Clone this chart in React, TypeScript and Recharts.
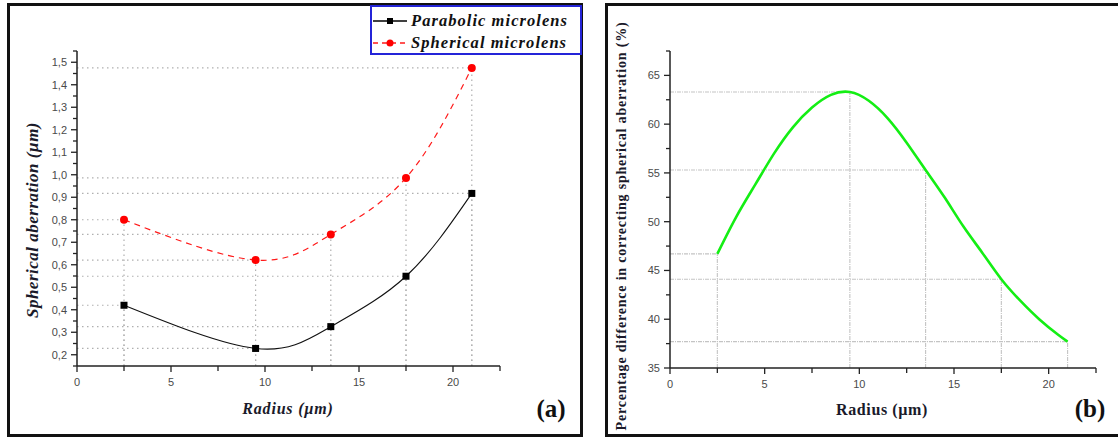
import React from 'react';
import { LineChart, Line, XAxis, YAxis, ReferenceLine } from 'recharts';

// ---- panel (a): spherical aberration vs radius
const aRadius = [2.5, 9.5, 13.5, 17.5, 21];
const aParabolic = [0.42, 0.228, 0.325, 0.549, 0.917];
const aSpherical = [0.8, 0.621, 0.735, 0.986, 1.475];

const aXTicks = [0, 2.5, 5, 7.5, 10, 12.5, 15, 17.5, 20, 22.5];
const aXLabels = [0, 5, 10, 15, 20];
const aYTicks = [
  0.15, 0.2, 0.25, 0.3, 0.35, 0.4, 0.45, 0.5, 0.55, 0.6, 0.65, 0.7, 0.75, 0.8, 0.85,
  0.9, 0.95, 1.0, 1.05, 1.1, 1.15, 1.2, 1.25, 1.3, 1.35, 1.4, 1.45, 1.5, 1.55,
];
const aYLabels = [0.2, 0.3, 0.4, 0.5, 0.6, 0.7, 0.8, 0.9, 1.0, 1.1, 1.2, 1.3, 1.4, 1.5];

// ---- panel (b): percentage difference vs radius
const bRadius = [2.5, 3.5, 4.5, 5.5, 6.5, 7.5, 8.5, 9.5, 10.5, 11.5, 12.5, 13.5, 14.5, 15.5, 16.5, 17.5, 18.5, 19.5, 20.5, 21];
const bPercent = [46.7, 50.5, 53.8, 57.0, 59.7, 61.7, 63.0, 63.3, 62.4, 60.6, 58.1, 55.3, 52.5, 49.5, 46.8, 44.1, 41.9, 40.0, 38.4, 37.7];
const bDropRadius = [2.5, 9.5, 13.5, 17.5, 21];

const bXTicks = [0, 2.5, 5, 7.5, 10, 12.5, 15, 17.5, 20, 22.5];
const bXLabels = [0, 5, 10, 15, 20];
const bYTicks = [35, 37.5, 40, 42.5, 45, 47.5, 50, 52.5, 55, 57.5, 60, 62.5, 65, 67.5];
const bYLabels = [35, 40, 45, 50, 55, 60, 65];

const SERIF = '"Liberation Serif", "Times New Roman", serif';
const SANS = '"Liberation Sans", Arial, sans-serif';
const AXIS = '#222';
const TICK_TEXT = '#4a4a4a';

const aData = aRadius.map((r, i) => ({ r, parabolic: aParabolic[i], spherical: aSpherical[i] }));
const bData = bRadius.map((r, i) => ({ r, pct: bPercent[i] }));
const bDrops = bData.filter((d) => bDropRadius.includes(d.r));

const comma = (v: number) => v.toFixed(1).replace('.', ',');
const plain = (v: number) => String(v);

function XTick(props: any) {
  const { x, y, payload, labels, fmt } = props;
  const major = labels.some((l: number) => Math.abs(l - payload.value) < 1e-6);
  return (
    <g>
      <line x1={x} y1={y} x2={x} y2={y + (major ? 6 : 5)} stroke={AXIS} strokeWidth={1.3} />
      {major && (
        <text x={x} y={y + 20} textAnchor="middle" fontSize={11} fontFamily={SANS} fill={TICK_TEXT}>
          {fmt(payload.value)}
        </text>
      )}
    </g>
  );
}

function YTick(props: any) {
  const { x, y, payload, labels, fmt } = props;
  const major = labels.some((l: number) => Math.abs(l - payload.value) < 1e-6);
  return (
    <g>
      <line x1={x} y1={y} x2={x - (major ? 6 : 4)} y2={y} stroke={AXIS} strokeWidth={1.3} />
      {major && (
        <text x={x - 10} y={y + 4} textAnchor="end" fontSize={11} fontFamily={SANS} fill={TICK_TEXT}>
          {fmt(payload.value)}
        </text>
      )}
    </g>
  );
}

function SquareDot(props: any) {
  const { cx, cy } = props;
  if (cx == null || cy == null) return null;
  return <rect x={cx - 3.5} y={cy - 3.5} width={7} height={7} fill="#000" />;
}

const abs = (style: React.CSSProperties): React.CSSProperties => ({ position: 'absolute', ...style });

function PanelA() {
  const dropStyle = { stroke: '#b0b0b0', strokeWidth: 1.2, strokeDasharray: '1.5 3.5' };
  const drops = aData.flatMap((d) => [d.parabolic, d.spherical].map((v) => ({ r: d.r, v })));
  return (
    <>
      <div style={abs({ left: 7, top: 3, width: 576, height: 434, border: '3px solid #111', boxSizing: 'border-box' })} />
      <div style={abs({ left: 0, top: 0 })}>
        <LineChart width={583} height={438} data={aData} margin={{ top: 51, right: 83, bottom: 42, left: 37 }}>
          <XAxis
            type="number" dataKey="r" domain={[0, 22.5]} ticks={aXTicks} interval={0}
            tickSize={0} tickMargin={0} height={30} allowDataOverflow
            axisLine={{ stroke: AXIS, strokeWidth: 1.5 }} tickLine={false}
            tick={<XTick labels={aXLabels} fmt={plain} />}
          />
          <YAxis
            type="number" domain={[0.15, 1.55]} ticks={aYTicks} interval={0}
            tickSize={0} tickMargin={0} width={40} allowDataOverflow
            axisLine={{ stroke: AXIS, strokeWidth: 1.5 }} tickLine={false}
            tick={<YTick labels={aYLabels} fmt={comma} />}
          />
          {drops.map((p, i) => (
            <ReferenceLine key={'h' + i} segment={[{ x: 0, y: p.v }, { x: p.r, y: p.v }]} {...dropStyle} />
          ))}
          {drops.map((p, i) => (
            <ReferenceLine key={'v' + i} segment={[{ x: p.r, y: 0.15 }, { x: p.r, y: p.v }]} {...dropStyle} />
          ))}
          <Line
            type="natural" dataKey="parabolic" stroke="#111" strokeWidth={1.1}
            dot={<SquareDot />} activeDot={false} isAnimationActive={false}
          />
          <Line
            type="natural" dataKey="spherical" stroke="#ff1a1a" strokeWidth={1.2} strokeDasharray="6 5"
            dot={{ r: 4, fill: '#ff0000', stroke: '#ff0000', strokeWidth: 0, strokeDasharray: '' }}
            activeDot={false} isAnimationActive={false}
          />
        </LineChart>
      </div>
      {/* legend */}
      <div style={abs({ left: 370, top: 5, width: 212, height: 50, border: '2px solid #2424d8', boxSizing: 'border-box', background: '#fff' })}>
        {[
          { label: 'Parabolic microlens', color: '#000', dash: undefined as string | undefined, square: true },
          { label: 'Spherical microlens', color: '#ff1a1a', dash: '5 4', square: false },
        ].map((e, i) => (
          <div key={e.label} style={abs({ left: 0, top: 3 + i * 22, height: 22, width: 210, display: 'flex', alignItems: 'center' })}>
            <svg width={36} height={12} style={{ marginLeft: 1 }}>
              <line x1={0} y1={6} x2={34} y2={6} stroke={e.color} strokeWidth={1.3} strokeDasharray={e.dash} />
              {e.square ? <rect x={14} y={3} width={6} height={6} fill="#000" /> : <circle cx={17} cy={6} r={3.5} fill="#ff0000" />}
            </svg>
            <span style={{ fontFamily: SERIF, fontStyle: 'italic', fontWeight: 700, fontSize: 16.5, letterSpacing: 1.05, marginLeft: 2, color: '#111', whiteSpace: 'nowrap' }}>
              {e.label}
            </span>
          </div>
        ))}
      </div>
      <div style={abs({ left: 33, top: 220, transform: 'translate(-50%, -50%) rotate(-90deg)', whiteSpace: 'nowrap', fontFamily: SERIF, fontStyle: 'italic', fontWeight: 700, fontSize: 17, letterSpacing: 0.5, color: '#1a1a2a' })}>
        Spherical aberration (µm)
      </div>
      <div style={abs({ left: 288, top: 409, transform: 'translate(-50%, -50%)', whiteSpace: 'nowrap', fontFamily: SERIF, fontStyle: 'italic', fontWeight: 700, fontSize: 16, letterSpacing: 0.8, color: '#1a1a2a' })}>
        Radius (µm)
      </div>
      <div style={abs({ left: 551, top: 409, transform: 'translate(-50%, -50%)', fontFamily: SERIF, fontWeight: 700, fontSize: 25, color: '#111' })}>
        (a)
      </div>
    </>
  );
}

function PanelB() {
  const dropStyle = { stroke: '#c4c4c4', strokeWidth: 1.1, strokeDasharray: '4 1 1 1' };
  return (
    <>
      <div style={abs({ left: 605, top: 3, width: 530, height: 434, border: '3px solid #111', boxSizing: 'border-box' })} />
      <div style={abs({ left: 600, top: 0 })}>
        <LineChart width={518} height={438} data={bData} margin={{ top: 51, right: 22, bottom: 40, left: 30 }}>
          <XAxis
            type="number" dataKey="r" domain={[0, 22.5]} ticks={bXTicks} interval={0}
            tickSize={0} tickMargin={0} height={30} allowDataOverflow
            axisLine={{ stroke: AXIS, strokeWidth: 1.5 }} tickLine={false}
            tick={<XTick labels={bXLabels} fmt={plain} />}
          />
          <YAxis
            type="number" domain={[35, 67.5]} ticks={bYTicks} interval={0}
            tickSize={0} tickMargin={0} width={40} allowDataOverflow
            axisLine={{ stroke: AXIS, strokeWidth: 1.5 }} tickLine={false}
            tick={<YTick labels={bYLabels} fmt={plain} />}
          />
          {bDrops.map((d, i) => (
            <ReferenceLine key={'h' + i} segment={[{ x: 0, y: d.pct }, { x: d.r, y: d.pct }]} {...dropStyle} />
          ))}
          {bDrops.map((d, i) => (
            <ReferenceLine key={'v' + i} segment={[{ x: d.r, y: 35 }, { x: d.r, y: d.pct }]} {...dropStyle} />
          ))}
          <Line
            type="natural" dataKey="pct" stroke="#14ee14" strokeWidth={2.6}
            dot={false} activeDot={false} isAnimationActive={false}
          />
        </LineChart>
      </div>
      <div style={abs({ left: 622, top: 226, transform: 'translate(-50%, -50%) rotate(-90deg)', whiteSpace: 'nowrap', fontFamily: SERIF, fontWeight: 700, fontSize: 14, letterSpacing: 0.8, color: '#1a1a2a' })}>
        Percentage difference in correcting spherical aberration (%)
      </div>
      <div style={abs({ left: 882, top: 410, transform: 'translate(-50%, -50%)', whiteSpace: 'nowrap', fontFamily: SERIF, fontWeight: 700, fontSize: 16, letterSpacing: 0.6, color: '#1a1a2a' })}>
        Radius (µm)
      </div>
      <div style={abs({ left: 1090, top: 409, transform: 'translate(-50%, -50%)', fontFamily: SERIF, fontWeight: 700, fontSize: 25, color: '#111' })}>
        (b)
      </div>
    </>
  );
}

export default function App() {
  return (
    <div style={{ position: 'absolute', left: 0, top: 0, width: 1118, height: 438, overflow: 'hidden', background: '#fff' }}>
      <PanelA />
      <PanelB />
    </div>
  );
}
